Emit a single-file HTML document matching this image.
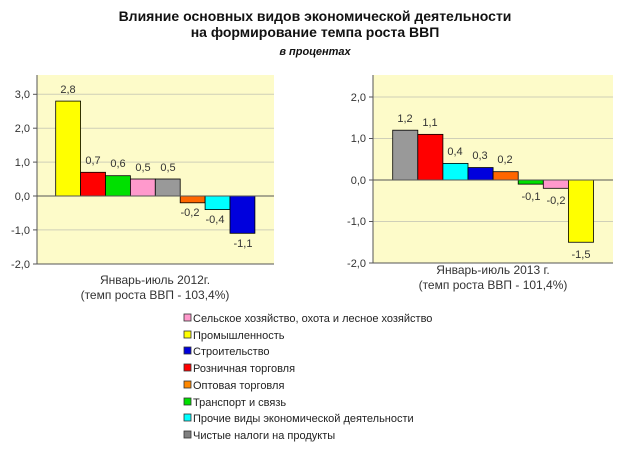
<!DOCTYPE html>
<html><head><meta charset="utf-8"><style>
body{margin:0;background:#fff;width:630px;height:450px;overflow:hidden}
text{font-family:"Liberation Sans",sans-serif}
</style></head><body>
<svg width="630" height="450" viewBox="0 0 630 450" xmlns="http://www.w3.org/2000/svg">
<g font-weight="bold" font-size="14" text-anchor="middle" fill="#111">
<text x="315" y="21">Влияние основных видов экономической деятельности</text>
<text x="315" y="37">на формирование темпа роста ВВП</text>
<text x="315" y="55" font-size="11" font-style="italic">в процентах</text>
</g>
<!-- left chart -->
<rect x="37" y="75" width="237" height="189" fill="#fdfbc9"/>
<g stroke="#cfcfb8" stroke-width="1">
<line x1="37" x2="274" y1="94.3" y2="94.3"/><line x1="37" x2="274" y1="128.2" y2="128.2"/>
<line x1="37" x2="274" y1="162.1" y2="162.1"/><line x1="37" x2="274" y1="229.9" y2="229.9"/>
</g>
<g stroke="#000" stroke-width="0.8">
<rect x="55.7" y="101.1" width="24.9" height="94.9" fill="#ffff00"/>
<rect x="80.6" y="172.3" width="24.9" height="23.7" fill="#ff0000"/>
<rect x="105.5" y="175.7" width="24.9" height="20.3" fill="#00e000"/>
<rect x="130.4" y="179" width="24.9" height="17" fill="#ff99cc"/>
<rect x="155.3" y="179" width="24.9" height="17" fill="#999999"/>
<rect x="180.2" y="196" width="24.9" height="6.8" fill="#ff6600"/>
<rect x="205.1" y="196" width="24.9" height="13.6" fill="#00ffff"/>
<rect x="230" y="196" width="24.9" height="37.3" fill="#0000dd"/>
</g>
<g stroke="#555" stroke-width="1"><line x1="37" x2="37" y1="75" y2="264"/><line x1="33" x2="274" y1="196" y2="196"/><line x1="33" x2="274" y1="264" y2="264"/>
<line x1="33" x2="37" y1="94.3" y2="94.3"/><line x1="33" x2="37" y1="128.2" y2="128.2"/><line x1="33" x2="37" y1="162.1" y2="162.1"/><line x1="33" x2="37" y1="229.9" y2="229.9"/></g>
<g font-size="11" fill="#333" text-anchor="end">
<text x="30" y="98">3,0</text><text x="30" y="132">2,0</text><text x="30" y="166">1,0</text><text x="30" y="200">0,0</text><text x="30" y="234">-1,0</text><text x="30" y="268">-2,0</text>
</g>
<g font-size="11" fill="#333" text-anchor="middle">
<text x="68" y="93">2,8</text><text x="93" y="164">0,7</text><text x="118" y="167">0,6</text><text x="143" y="171">0,5</text><text x="168" y="171">0,5</text>
<text x="190" y="216">-0,2</text><text x="215" y="223">-0,4</text><text x="243" y="247">-1,1</text>
<text x="155" y="284" font-size="12">Январь-июль 2012г.</text>
<text x="155" y="299" font-size="12">(темп роста ВВП - 103,4%)</text>
</g>
<!-- right chart -->
<rect x="373" y="75" width="240" height="188" fill="#fdfbc9"/>
<g stroke="#cfcfb8" stroke-width="1">
<line x1="373" x2="613" y1="97" y2="97"/><line x1="373" x2="613" y1="138.5" y2="138.5"/><line x1="373" x2="613" y1="221.5" y2="221.5"/>
</g>
<g stroke="#000" stroke-width="0.8">
<rect x="392.7" y="130.2" width="25.1" height="49.8" fill="#999999"/>
<rect x="417.8" y="134.35" width="25.1" height="45.65" fill="#ff0000"/>
<rect x="442.9" y="163.4" width="25.1" height="16.6" fill="#00ffff"/>
<rect x="468" y="167.55" width="25.1" height="12.45" fill="#0000dd"/>
<rect x="493.1" y="171.7" width="25.1" height="8.3" fill="#ff6600"/>
<rect x="518.2" y="180" width="25.1" height="4.15" fill="#00e000"/>
<rect x="543.3" y="180" width="25.1" height="8.3" fill="#ff99cc"/>
<rect x="568.4" y="180" width="25.1" height="62.25" fill="#ffff00"/>
</g>
<g stroke="#555" stroke-width="1"><line x1="373" x2="373" y1="75" y2="263"/><line x1="369" x2="613" y1="180" y2="180"/><line x1="369" x2="613" y1="263" y2="263"/>
<line x1="369" x2="373" y1="97" y2="97"/><line x1="369" x2="373" y1="138.5" y2="138.5"/><line x1="369" x2="373" y1="221.5" y2="221.5"/></g>
<g font-size="11" fill="#333" text-anchor="end">
<text x="366" y="101">2,0</text><text x="366" y="142">1,0</text><text x="366" y="184">0,0</text><text x="366" y="225">-1,0</text><text x="366" y="267">-2,0</text>
</g>
<g font-size="11" fill="#333" text-anchor="middle">
<text x="405" y="122">1,2</text><text x="430" y="126">1,1</text><text x="455" y="155">0,4</text><text x="480" y="159">0,3</text><text x="505" y="163">0,2</text>
<text x="531" y="200">-0,1</text><text x="556" y="204">-0,2</text><text x="581" y="258">-1,5</text>
<text x="493" y="274" font-size="12">Январь-июль 2013 г.</text>
<text x="493" y="289" font-size="12">(темп роста ВВП - 101,4%)</text>
</g>
<!-- legend -->
<g stroke="#333" stroke-width="0.8">
<rect x="184" y="314" width="7" height="7" fill="#ff99cc"/>
<rect x="184" y="331" width="7" height="7" fill="#ffff00"/>
<rect x="184" y="347" width="7" height="7" fill="#0000dd"/>
<rect x="184" y="364" width="7" height="7" fill="#ff0000"/>
<rect x="184" y="381" width="7" height="7" fill="#ff8800"/>
<rect x="184" y="398" width="7" height="7" fill="#00e000"/>
<rect x="184" y="414" width="7" height="7" fill="#00ffff"/>
<rect x="184" y="431" width="7" height="7" fill="#808080"/>
</g>
<g font-size="11" fill="#222">
<text x="193" y="322">Сельское хозяйство, охота и лесное хозяйство</text>
<text x="193" y="339">Промышленность</text>
<text x="193" y="355">Строительство</text>
<text x="193" y="372">Розничная торговля</text>
<text x="193" y="389">Оптовая торговля</text>
<text x="193" y="406">Транспорт и связь</text>
<text x="193" y="422">Прочие виды экономической деятельности</text>
<text x="193" y="439">Чистые налоги на продукты</text>
</g>
</svg>
</body></html>
